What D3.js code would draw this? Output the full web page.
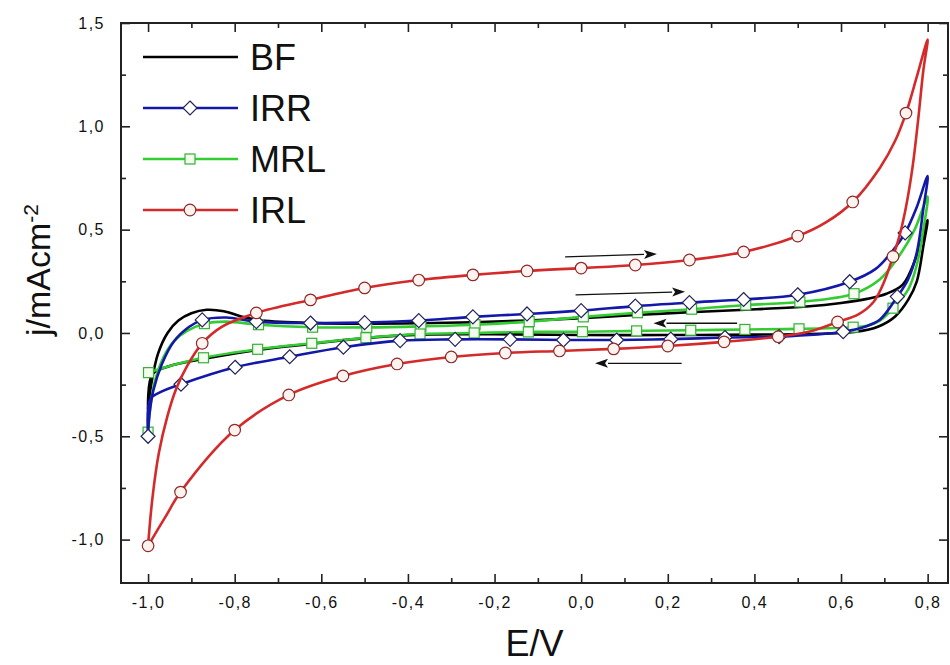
<!DOCTYPE html>
<html>
<head>
<meta charset="utf-8">
<script src="https://cdn.jsdelivr.net/npm/d3@7/dist/d3.min.js"></script>
<style>
  html, body { margin: 0; padding: 0; background: #ffffff; }
  svg { display: block; }
</style>
</head>
<body>
<svg id="chart" width="950" height="665"></svg>
<script>
// Cyclic voltammograms: potential E (V) against current density j (mA cm^-2).
// Each scan is stored as [E, j, marker] triples, forward sweep then reverse sweep.

const xMajorTicks = [-1.0, -0.8, -0.6, -0.4, -0.2, 0.0, 0.2, 0.4, 0.6, 0.8];
const xMinorTicks = [-0.9, -0.7, -0.5, -0.3, -0.1, 0.1, 0.3, 0.5, 0.7];
const yMajorTicks = [-1.0, -0.5, 0.0, 0.5, 1.0, 1.5];
const yMinorTicks = [-0.75, -0.25, 0.25, 0.75, 1.25];

const seriesNames = ["BF", "IRR", "MRL", "IRL"];

// BF (no symbols)
const bfFwd = [
  [-1.0, -0.37, 0], [-0.992, -0.24, 0], [-0.977, -0.10, 0], [-0.955, 0.0, 0],
  [-0.93, 0.06, 0], [-0.9, 0.095, 0], [-0.865, 0.112, 0], [-0.825, 0.105, 0],
  [-0.785, 0.08, 0], [-0.745, 0.063, 0], [-0.65, 0.05, 0], [-0.5, 0.045, 0],
  [-0.375, 0.047, 0], [-0.25, 0.052, 0], [-0.125, 0.06, 0], [0.0, 0.072, 0],
  [0.136, 0.088, 0], [0.25, 0.1, 0], [0.405, 0.115, 0], [0.52, 0.128, 0],
  [0.6, 0.145, 0], [0.66, 0.165, 0], [0.705, 0.19, 0], [0.743, 0.235, 0],
  [0.774, 0.37, 0], [0.8, 0.547, 0]
];
const bfRev = [
  [0.8, 0.547, 0], [0.79, 0.42, 0], [0.775, 0.25, 0], [0.755, 0.16, 0],
  [0.725, 0.08, 0], [0.685, 0.03, 0], [0.636, 0.006, 0], [0.55, -0.004, 0],
  [0.4, -0.008, 0], [0.2, -0.01, 0], [0.0, -0.01, 0], [-0.2, -0.006, 0],
  [-0.37, -0.008, 0], [-0.5, -0.025, 0], [-0.62, -0.052, 0], [-0.75, -0.083, 0],
  [-0.87, -0.125, 0], [-0.95, -0.16, 0], [-0.99, -0.2, 0], [-1.0, -0.37, 0]
];

// IRR (diamonds)
const irrFwd = [
  [-1.0, -0.50, 1], [-0.997, -0.40, 0], [-0.988, -0.28, 0], [-0.968, -0.15, 0],
  [-0.94, -0.04, 0], [-0.905, 0.03, 0], [-0.875, 0.063, 1], [-0.82, 0.075, 0],
  [-0.75, 0.055, 1], [-0.625, 0.048, 1], [-0.5, 0.05, 1], [-0.375, 0.06, 1],
  [-0.25, 0.078, 1], [-0.125, 0.092, 1], [0.0, 0.108, 1], [0.125, 0.13, 1],
  [0.25, 0.147, 1], [0.375, 0.162, 1], [0.5, 0.185, 1], [0.62, 0.248, 1],
  [0.68, 0.31, 0], [0.72, 0.40, 0], [0.748, 0.484, 1], [0.775, 0.61, 0],
  [0.8, 0.76, 0]
];
const irrRev = [
  [0.8, 0.76, 0], [0.79, 0.60, 0], [0.775, 0.39, 0], [0.755, 0.26, 0],
  [0.73, 0.176, 1], [0.69, 0.065, 0], [0.655, 0.03, 0], [0.605, 0.006, 1],
  [0.457, -0.018, 1], [0.332, -0.022, 1], [0.207, -0.03, 1], [0.082, -0.034, 1],
  [-0.041, -0.034, 1], [-0.164, -0.031, 1], [-0.291, -0.031, 1], [-0.418, -0.037, 1],
  [-0.549, -0.069, 1], [-0.673, -0.115, 1], [-0.799, -0.166, 1], [-0.924, -0.248, 1],
  [-0.975, -0.29, 0], [-0.995, -0.32, 0], [-1.0, -0.50, 0]
];

// MRL (squares)
const mrlFwd = [
  [-1.0, -0.48, 1], [-0.995, -0.36, 0], [-0.985, -0.24, 0], [-0.965, -0.12, 0],
  [-0.94, -0.04, 0], [-0.91, 0.01, 0], [-0.87, 0.045, 1], [-0.82, 0.055, 0],
  [-0.745, 0.04, 1], [-0.62, 0.028, 1], [-0.495, 0.027, 1], [-0.37, 0.032, 1],
  [-0.245, 0.04, 1], [-0.12, 0.055, 1], [0.005, 0.078, 1], [0.13, 0.098, 1],
  [0.255, 0.115, 1], [0.38, 0.135, 1], [0.505, 0.15, 1], [0.63, 0.19, 1],
  [0.69, 0.26, 0], [0.73, 0.36, 0], [0.77, 0.50, 0], [0.8, 0.66, 0]
];
const mrlRev = [
  [0.8, 0.66, 0], [0.79, 0.50, 0], [0.775, 0.33, 0], [0.755, 0.21, 0],
  [0.72, 0.12, 1], [0.69, 0.06, 0], [0.66, 0.035, 0], [0.628, 0.028, 1],
  [0.503, 0.02, 1], [0.378, 0.017, 1], [0.253, 0.013, 1], [0.128, 0.01, 1],
  [0.003, 0.006, 1], [-0.122, 0.005, 1], [-0.247, 0.0, 1], [-0.372, -0.005, 1],
  [-0.497, -0.023, 1], [-0.622, -0.05, 1], [-0.747, -0.079, 1], [-0.872, -0.12, 1],
  [-0.95, -0.16, 0], [-0.999, -0.192, 1]
];

// IRL (circles)
const irlFwd = [
  [-1.0, -1.03, 1], [-0.99, -0.80, 0], [-0.975, -0.58, 0], [-0.955, -0.40, 0],
  [-0.935, -0.27, 0], [-0.91, -0.16, 0], [-0.875, -0.05, 1], [-0.83, 0.03, 0],
  [-0.75, 0.097, 1], [-0.625, 0.16, 1], [-0.5, 0.218, 1], [-0.375, 0.256, 1],
  [-0.25, 0.281, 1], [-0.125, 0.30, 1], [0.0, 0.314, 1], [0.125, 0.329, 1],
  [0.25, 0.353, 1], [0.375, 0.392, 1], [0.5, 0.469, 1], [0.565, 0.535, 0],
  [0.627, 0.634, 1], [0.69, 0.80, 0], [0.725, 0.93, 0], [0.75, 1.064, 1],
  [0.775, 1.24, 0], [0.8, 1.42, 0]
];
const irlRev = [
  [0.8, 1.42, 0], [0.79, 1.27, 0], [0.778, 1.03, 0], [0.765, 0.80, 0],
  [0.75, 0.61, 0], [0.735, 0.47, 0], [0.72, 0.37, 1], [0.70, 0.25, 0],
  [0.675, 0.15, 0], [0.64, 0.09, 0], [0.592, 0.053, 1], [0.53, 0.008, 0],
  [0.455, -0.018, 1], [0.33, -0.043, 1], [0.2, -0.063, 1], [0.075, -0.077, 1],
  [-0.05, -0.087, 1], [-0.175, -0.097, 1], [-0.3, -0.116, 1], [-0.425, -0.15, 1],
  [-0.55, -0.208, 1], [-0.675, -0.30, 1], [-0.8, -0.47, 1], [-0.925, -0.77, 1],
  [-0.96, -0.89, 0], [-1.0, -1.03, 0]
];

// Scan-direction arrows: [E start, j start, E end, j end]
const scanArrows = [
  [-0.037, 0.368, 0.175, 0.382],
  [-0.013, 0.184, 0.24, 0.2],
  [0.36, 0.047, 0.167, 0.047],
  [0.232, -0.147, 0.032, -0.147]
];

const series = [
  { name: "BF",  fwd: bfFwd,  rev: bfRev,  color: "#000000", symbol: null },
  { name: "MRL", fwd: mrlFwd, rev: mrlRev, color: "#33cc33", symbol: "square",
    stroke: "#35b035", fill: "#f3fcef" },
  { name: "IRR", fwd: irrFwd, rev: irrRev, color: "#1418a8", symbol: "diamond",
    stroke: "#23235e", fill: "#ffffff" },
  { name: "IRL", fwd: irlFwd, rev: irlRev, color: "#d42a2a", symbol: "circle",
    stroke: "#8e2a2a", fill: "#fff3ef" }
];

const svg = d3.select("#chart");
const W = 950, H = 665;
const plot = { left: 121, right: 948, top: 23, bottom: 583 };

const x = d3.scaleLinear().domain([-1.0625, 0.847]).range([plot.left, plot.right]);
const y = d3.scaleLinear().domain([-1.21, 1.5]).range([plot.bottom, plot.top]);

const fmt = v => (v < -1e-9 ? "-" : "") + Math.abs(v).toFixed(1).replace(".", ",");
const tickFont = "'Liberation Sans Narrow', 'Arial Narrow', 'Liberation Sans', Arial, sans-serif";

svg.append("rect").attr("width", W).attr("height", H).attr("fill", "#ffffff");

const clipId = "plot-clip";
svg.append("clipPath").attr("id", clipId)
  .append("rect")
  .attr("x", plot.left).attr("y", plot.top)
  .attr("width", plot.right - plot.left).attr("height", plot.bottom - plot.top);

// Axes with inward-pointing ticks on all four sides
function styleAxis(g) {
  g.select(".domain").remove();
  g.selectAll(".tick line").attr("stroke", "#222").attr("stroke-width", 1.6);
  g.selectAll(".tick text")
    .attr("fill", "#111")
    .style("font-family", tickFont)
    .style("font-size", "16px")
    .style("letter-spacing", "1.5px");
}

svg.append("g").attr("transform", `translate(0,${plot.bottom})`)
  .call(d3.axisBottom(x).tickValues(xMajorTicks).tickSize(-9).tickPadding(14).tickFormat(fmt))
  .call(styleAxis);
svg.append("g").attr("transform", `translate(0,${plot.bottom})`)
  .call(d3.axisBottom(x).tickValues(xMinorTicks).tickSize(-5).tickFormat(""))
  .call(styleAxis);
svg.append("g").attr("transform", `translate(0,${plot.top})`)
  .call(d3.axisTop(x).tickValues(xMajorTicks).tickSize(-9).tickFormat(""))
  .call(styleAxis);
svg.append("g").attr("transform", `translate(0,${plot.top})`)
  .call(d3.axisTop(x).tickValues(xMinorTicks).tickSize(-5).tickFormat(""))
  .call(styleAxis);

svg.append("g").attr("transform", `translate(${plot.left},0)`)
  .call(d3.axisLeft(y).tickValues(yMajorTicks).tickSize(-9).tickPadding(16).tickFormat(fmt))
  .call(styleAxis);
svg.append("g").attr("transform", `translate(${plot.left},0)`)
  .call(d3.axisLeft(y).tickValues(yMinorTicks).tickSize(-5).tickFormat(""))
  .call(styleAxis);
svg.append("g").attr("transform", `translate(${plot.right},0)`)
  .call(d3.axisRight(y).tickValues(yMajorTicks).tickSize(-9).tickFormat(""))
  .call(styleAxis);
svg.append("g").attr("transform", `translate(${plot.right},0)`)
  .call(d3.axisRight(y).tickValues(yMinorTicks).tickSize(-5).tickFormat(""))
  .call(styleAxis);

// Frame
svg.append("rect")
  .attr("x", plot.left).attr("y", plot.top)
  .attr("width", plot.right - plot.left).attr("height", plot.bottom - plot.top)
  .attr("fill", "none").attr("stroke", "#222").attr("stroke-width", 2);

// Axis titles
svg.append("text")
  .attr("x", (plot.left + plot.right) / 2).attr("y", 656)
  .attr("text-anchor", "middle")
  .style("font-family", tickFont)
  .style("font-size", "36px")
  .attr("fill", "#111")
  .text("E/V");

const yTitle = svg.append("text")
  .attr("transform", "translate(50,336) rotate(-90)")
  .attr("text-anchor", "start")
  .style("font-family", "'Liberation Sans', Arial, sans-serif")
  .style("font-size", "34px")
  .attr("fill", "#111");
yTitle.append("tspan").text("j/mAcm");
yTitle.append("tspan").attr("dy", "-0.55em").style("font-size", "21px").text("-2");

// Symbol drawing
function drawSymbol(sel, s, px, py) {
  if (s.symbol === "diamond") {
    const r = 7;
    sel.append("path")
      .attr("d", `M${px},${py - r}L${px + r},${py}L${px},${py + r}L${px - r},${py}Z`)
      .attr("fill", s.fill).attr("stroke", s.stroke).attr("stroke-width", 1.2);
  } else if (s.symbol === "square") {
    const h = 5;
    sel.append("rect")
      .attr("x", px - h).attr("y", py - h).attr("width", 2 * h).attr("height", 2 * h)
      .attr("fill", s.fill).attr("stroke", s.stroke).attr("stroke-width", 1.2);
  } else if (s.symbol === "circle") {
    sel.append("circle")
      .attr("cx", px).attr("cy", py).attr("r", 5.8)
      .attr("fill", s.fill).attr("stroke", s.stroke).attr("stroke-width", 1.2);
  }
}

const line = d3.line()
  .x(d => x(d[0])).y(d => y(d[1]))
  .curve(d3.curveCatmullRom.alpha(0.5));

const plotG = svg.append("g").attr("clip-path", `url(#${clipId})`);

series.forEach(s => {
  const pts = s.fwd.concat(s.rev.slice(1));
  plotG.append("path")
    .datum(pts)
    .attr("d", line)
    .attr("fill", "none")
    .attr("stroke", s.color)
    .attr("stroke-width", 2.6)
    .attr("stroke-linejoin", "round");
  if (s.symbol) {
    const mg = plotG.append("g");
    pts.filter(d => d[2] === 1).forEach(d => drawSymbol(mg, s, x(d[0]), y(d[1])));
  }
});

// Scan direction arrows
const arrowG = svg.append("g");
scanArrows.forEach(a => {
  const x1 = x(a[0]), y1 = y(a[1]), x2 = x(a[2]), y2 = y(a[3]);
  const ang = Math.atan2(y2 - y1, x2 - x1);
  const len = 13, half = 4.5;
  const bx = x2 - len * Math.cos(ang), by = y2 - len * Math.sin(ang);
  arrowG.append("line")
    .attr("x1", x1).attr("y1", y1).attr("x2", bx).attr("y2", by)
    .attr("stroke", "#111").attr("stroke-width", 1.3);
  const nx = -Math.sin(ang), ny = Math.cos(ang);
  arrowG.append("path")
    .attr("d", `M${x2},${y2}L${bx + nx * half},${by + ny * half}L${bx + 3 * Math.cos(ang)},${by + 3 * Math.sin(ang)}L${bx - nx * half},${by - ny * half}Z`)
    .attr("fill", "#111");
});

// Legend
const legendOrder = ["BF", "IRR", "MRL", "IRL"];
const legend = svg.append("g");
legendOrder.forEach((name, i) => {
  const s = series.find(d => d.name === name);
  const ly = 57 + i * 51;
  legend.append("line")
    .attr("x1", 143).attr("x2", 238).attr("y1", ly).attr("y2", ly)
    .attr("stroke", s.color).attr("stroke-width", 2.6);
  if (s.symbol) drawSymbol(legend, s, 190, ly);
  legend.append("text")
    .attr("x", 250).attr("y", ly + 13)
    .style("font-family", "'Liberation Sans', Arial, sans-serif")
    .style("font-size", "36px")
    .attr("fill", "#111")
    .text(name);
});
</script>
</body>
</html>
